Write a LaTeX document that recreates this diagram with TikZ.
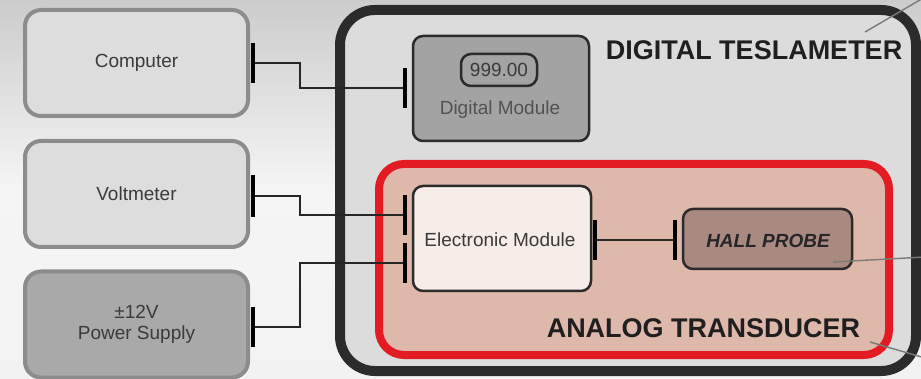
\documentclass[tikz,border=0pt]{standalone}
\usepackage{fontspec}
\setmainfont{Liberation Sans}
\usetikzlibrary{calc}
\definecolor{sideedge}{HTML}{8C8C8C}
\definecolor{sidefill}{HTML}{DDDDDD}
\definecolor{psfill}{HTML}{A9A9A9}
\definecolor{txt}{HTML}{3A3A3A}
\definecolor{frame}{HTML}{2B2B2B}
\definecolor{tfill}{HTML}{DCDCDC}
\definecolor{redline}{HTML}{E31B23}
\definecolor{redfill}{HTML}{DEB8AA}
\definecolor{dmfill}{HTML}{A3A3A3}
\definecolor{emfill}{HTML}{F6ECE8}
\definecolor{hpfill}{HTML}{A98A80}
\definecolor{leader}{HTML}{7A7A7A}
\begin{document}
\begin{tikzpicture}[x=1pt,y=-1pt,
  sidebox/.style={draw=sideedge, line width=4pt, rounded corners=16pt, fill=sidefill, text=txt,
    font=\fontsize{19}{22}\selectfont, align=center, inner sep=0pt, minimum width=223, minimum height=106},
  modbox/.style={draw=frame, line width=2.5pt, rounded corners=10pt, inner sep=0pt},
  bar/.style={line width=4pt, draw=black},
  wire/.style={line width=1.1pt, draw=black!85},
  lbl/.style={text=txt, font=\fontsize{19}{22}\selectfont, inner sep=0pt},
  title/.style={text=black!88, font=\fontsize{27}{30}\selectfont\bfseries, inner sep=0pt},
  leaderline/.style={draw=leader, line width=1.4pt}]
\useasboundingbox (0,0) rectangle (921,379);
\clip (0,0) rectangle (921,379);
\shade[top color=black!20, bottom color=black!5, middle color=black!4] (0,0) rectangle (921,379);

% left boxes
\node[sidebox] (comp) at (136.5,63) {Computer};
\node[sidebox] (volt) at (136.5,194) {Voltmeter};
\node[sidebox, fill=psfill] (power) at (136.5,324.5) {±12V\\[-1pt]Power Supply};

% digital teslameter frame
\node[draw=frame, line width=10pt, rounded corners=35pt, fill=tfill, inner sep=0pt,
  minimum width=576, minimum height=361] (tesla) at (628,190.5) {};
\node[title] (ttitle) at (754,50) {DIGITAL TESLAMETER};

% digital module
\node[modbox, fill=dmfill, minimum width=176, minimum height=105] (dm) at (501,88.5) {};
\node[modbox, fill=dmfill, minimum width=76, minimum height=32, lbl] (disp) at (499,70) {999.00};
\node[lbl, text=black!68] (dmlbl) at (500,110) {Digital Module};

% analog transducer
\node[draw=redline, line width=8pt, rounded corners=25pt, fill=redfill, inner sep=0pt,
  minimum width=510, minimum height=191] (analog) at (634,259.5) {};
\node[title] (atitle) at (703.5,328) {ANALOG TRANSDUCER};

\node[modbox, fill=emfill, minimum width=178, minimum height=105] (em) at (502,238.5) {};
\node[lbl] (emlbl) at (500,240) {Electronic Module};

\node[modbox, fill=hpfill, minimum width=169, minimum height=60] (hp) at (767.5,239) {};
\node[lbl, text=black!85, font=\fontsize{19}{22}\selectfont\bfseries\itshape] (hplbl) at (768,241) {HALL PROBE};

% ports
\coordinate (pc) at (253,63);
\coordinate (pv) at (253,196);
\coordinate (pp) at (253,327);
\coordinate (pd) at (405,88);
\coordinate (pe1) at (405,215);
\coordinate (pe2) at (405,263);
\coordinate (pe3) at (595,240);
\coordinate (ph) at (675,240);

% wires
\draw[wire] (pc) -- ++(47,0) |- (pd);
\draw[wire] (pv) -- ++(47,0) |- (pe1);
\draw[wire] (pp) -- ++(47,0) |- (pe2);
\draw[wire] (pe3) -- (ph);

% bars
\draw[bar] (pc) +(0,-20) -- +(0,20);
\draw[bar] (pv) +(0,-21) -- +(0,21);
\draw[bar] (pp) +(0,-20) -- +(0,20);
\draw[bar] (pd) +(0,-20) -- +(0,20);
\draw[bar] (pe1) +(0,-20) -- +(0,20);
\draw[bar] (pe2) +(0,-20) -- +(0,20);
\draw[bar] (pe3) +(0,-20) -- +(0,20);
\draw[bar] (ph) +(0,-20) -- +(0,20);

% leader lines
\coordinate (l1a) at (865,32);
\coordinate (l1b) at (925,-3);
\coordinate (l2a) at (833,262);
\coordinate (l2b) at (925,257);
\coordinate (l3a) at (870,342);
\coordinate (l3b) at (925,358);
\draw[leaderline] (l1a) -- (l1b);
\draw[leaderline] (l2a) -- (l2b);
\draw[leaderline] (l3a) -- (l3b);
\end{tikzpicture}
\end{document}
